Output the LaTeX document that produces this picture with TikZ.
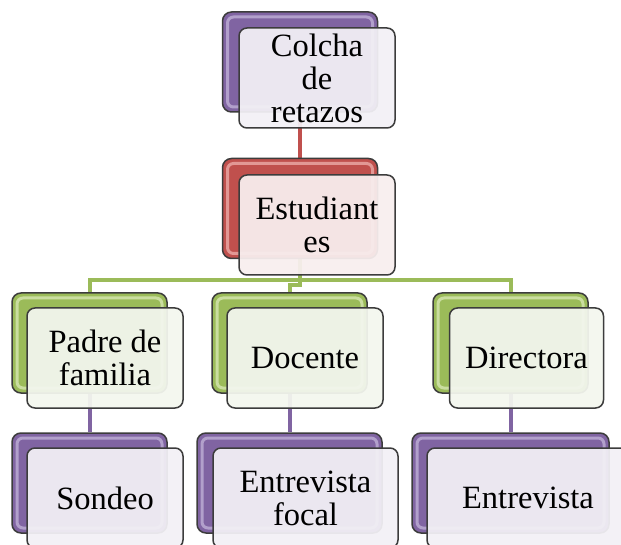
\documentclass[tikz,border=0pt]{standalone}
\usepackage{fontspec}
\setmainfont{Liberation Serif}
\pgfdeclarelayer{bg}
\pgfsetlayers{bg,main}
\definecolor{purpC}{HTML}{8064A2}
\definecolor{purpL}{HTML}{BFB0D6}
\definecolor{redC}{HTML}{C0504D}
\definecolor{redL}{HTML}{EBAAA8}
\definecolor{grnC}{HTML}{9BBB59}
\definecolor{grnL}{HTML}{D6E6B2}
\definecolor{purpF}{HTML}{F2F0F5}
\definecolor{redF}{HTML}{F8EEEE}
\definecolor{grnF}{HTML}{F3F6EE}
\definecolor{edge}{HTML}{3C3C3C}
\begin{document}
\begin{tikzpicture}[x=1pt,y=-1pt,
  backbox/.style={draw=edge, line width=1.5pt, rounded corners=9pt, inner sep=0pt,
    minimum height=100pt, minimum width=155pt,
    path picture={\draw[#1, opacity=0.8, line width=3pt, rounded corners=6pt]
      ([shift={(5pt,-5pt)}]path picture bounding box.north west) rectangle
      ([shift={(-5pt,5pt)}]path picture bounding box.south east);}},
  frontbox/.style={draw=edge, line width=1.5pt, rounded corners=8pt, inner sep=0pt,
    minimum height=100pt, minimum width=156pt, fill opacity=0.94, text opacity=1,
    align=center, font=\fontsize{32.5}{33}\selectfont},
  conn/.style={line width=4pt}
]
\useasboundingbox (0,0) rectangle (621,545);
\clip (0,0) rectangle (621,545);
% level 0
\node[backbox=purpL, fill=purpC] (colB) at (300,62) {};
\node[frontbox, fill=purpF] (colF) at (317,78) {Colcha\\de\\retazos};
% level 1
\node[backbox=redL, fill=redC] (estB) at (300,208.5) {};
\node[frontbox, fill=redF] (estF) at (317,225) {Estudiant\\es};
% level 2
\node[backbox=grnL, fill=grnC] (padB) at (89.5,343) {};
\node[frontbox, fill=grnF] (padF) at (105,358) {Padre de\\familia};
\node[backbox=grnL, fill=grnC] (docB) at (289.5,343) {};
\node[frontbox, fill=grnF] (docF) at (305,358) {Docente};
\node[backbox=grnL, fill=grnC] (dirB) at (510.5,343) {};
\node[frontbox, fill=grnF, minimum width=154pt] (dirF) at (526.5,358) {Directora};
% level 3
\node[backbox=purpL, fill=purpC] (sonB) at (89.5,483) {};
\node[frontbox, fill=purpF] (sonF) at (105,498) {Sondeo};
\node[backbox=purpL, fill=purpC, minimum width=185pt] (efB) at (289.5,483) {};
\node[frontbox, fill=purpF, minimum width=185pt] (efF) at (305.5,498) {Entrevista\\focal};
\node[backbox=purpL, fill=purpC, minimum width=197pt] (entB) at (510.5,483) {};
\node[frontbox, fill=purpF, minimum width=202pt] (entF) at (528,498) {Entrevista};
% connectors
\begin{pgfonlayer}{bg}
\draw[conn, redC] (colB.south) -- (estB.north);
\draw[conn, grnC] (padB.north) -- ++(0,-12) -| (dirB.north);
\draw[conn, grnC] (estB.south) -- ++(0,26) -| (docB.north);
\draw[conn, purpC] (padB.south) -- (sonB.north);
\draw[conn, purpC] (docB.south) -- (efB.north);
\draw[conn, purpC] (dirB.south) -- (entB.north);
\end{pgfonlayer}
\end{tikzpicture}
\end{document}
